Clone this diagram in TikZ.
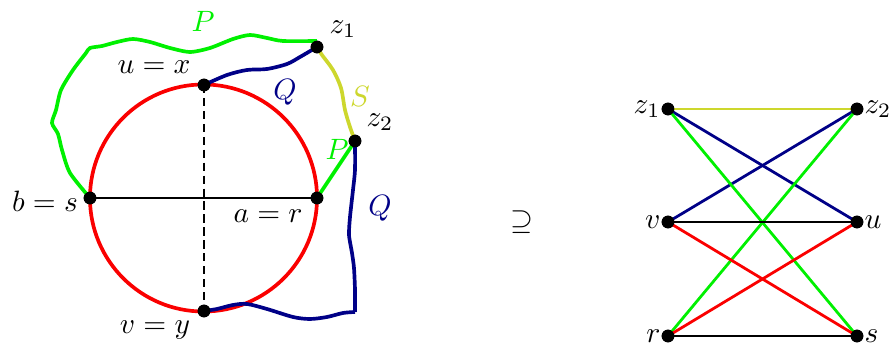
\documentclass[tikz,border=0pt]{standalone}
\usetikzlibrary{calc}
\definecolor{pgreen}{RGB}{0,240,0}
\definecolor{qblue}{RGB}{0,0,135}
\definecolor{syellow}{RGB}{205,215,45}
\definecolor{cred}{RGB}{250,0,0}
\begin{document}
\begin{tikzpicture}[x=0.34pt,y=-0.34pt,
  dot/.style={circle,fill=black,inner sep=0pt,minimum size=4.3pt},
  lbl/.style={inner sep=0pt},
  thickpath/.style={line width=1.25pt},
  thinedge/.style={line width=0.95pt}]
\useasboundingbox (0,0) rectangle (896,350);
% left figure
\coordinate (c) at (203.5,198);
\draw[cred,thickpath] (c) circle[radius=38.6pt];
\node[dot] (u) at (204,85) {};
\node[dot] (v) at (204,311) {};
\node[dot] (b) at (90,198) {};
\node[dot] (a) at (317,198) {};
\node[dot] (z1) at (317,47) {};
\node[dot] (z2) at (355,141) {};
\draw[dash pattern=on 2.8pt off 1.6pt,line width=0.95pt] (u.center) -- (v.center);
\draw[line width=0.95pt] (b.center) -- (a.center);
\draw[pgreen,thickpath] plot[smooth,tension=0.45] coordinates {(90,198) (70,173) (62,150) (58,134) (52,123) (56,110) (61,90) (73,70) (86,53) (90,48) (102,46) (117,42) (133,39) (150,42) (170,48) (190,52) (210,48) (233,39) (250,35) (267,38) (283,41) (317,41)};
\draw[pgreen,thickpath] (a.center) -- (z2.center);
\draw[qblue,thickpath] plot[smooth,tension=0.5] coordinates {(204,85) (227,75) (247,70) (267,69) (287,64) (300,57) (317,47)};
\draw[syellow,thickpath] plot[smooth,tension=0.5] coordinates {(317,47) (322,55) (333,70) (341,88) (345,110) (350,127) (355,141)};
\draw[qblue,thickpath] plot[smooth,tension=0.4] coordinates {(355,141) (355,170) (353,190) (350,217) (349,235) (352,253) (354,268) (355,290) (355,312)};
\draw[qblue,thickpath] plot[smooth,tension=0.5] coordinates {(355,312) (343,313) (327,317) (310,319) (293,317) (267,309) (247,304) (233,305) (217,309) (204,311)};
\node[dot] at (u) {};
\node[dot] at (v) {};
\node[dot] at (b) {};
\node[dot] at (a) {};
\node[dot] at (z1) {};
\node[dot] at (z2) {};
\node[lbl,pgreen] (lP1) at (203,21) {$P$};
\node[lbl] (lz1) at (343,29) {$z_1$};
\node[lbl] (lu) at (154,67) {$u=x$};
\node[lbl,qblue] (lQ1) at (285,92) {$Q$};
\node[lbl,syellow] (lS) at (360,96) {$S$};
\node[lbl] (lz2) at (380,122) {$z_2$};
\node[lbl,pgreen] (lP2) at (337,149) {$P$};
\node[lbl] (lb) at (45,201) {$b=s$};
\node[lbl] (la) at (268,216) {$a=r$};
\node[lbl,qblue] (lQ2) at (380,208) {$Q$};
\node[lbl] (lv) at (155,330) {$v=y$};
\node[lbl] (sup) at (522,222) {$\supseteq$};
% right graph
\node[dot,label={[lbl]left:$z_1$}] (rz1) at (668,109) {};
\node[dot,label={[lbl]right:$z_2$}] (rz2) at (857,109) {};
\node[dot,label={[lbl]left:$v$}] (rv) at (668,222) {};
\node[dot,label={[lbl]right:$u$}] (ru) at (857,222) {};
\node[dot,label={[lbl]left:$r$}] (rr) at (668,336) {};
\node[dot,label={[lbl]right:$s$}] (rs) at (857,336) {};
\draw[thinedge,syellow] (rz1.center) -- (rz2.center);
\draw[thinedge,qblue] (rz1.center) -- (ru.center);
\draw[thinedge,qblue] (rv.center) -- (rz2.center);
\draw[thinedge,pgreen] (rz1.center) -- (rs.center);
\draw[thinedge,pgreen] (rr.center) -- (rz2.center);
\draw[thinedge,black] (rv.center) -- (ru.center);
\draw[thinedge,cred] (rv.center) -- (rs.center);
\draw[thinedge,cred] (rr.center) -- (ru.center);
\draw[thinedge,black] (rr.center) -- (rs.center);
\foreach \n in {rz1,rz2,rv,ru,rr,rs} \node[dot] at (\n) {};
\end{tikzpicture}
\end{document}
